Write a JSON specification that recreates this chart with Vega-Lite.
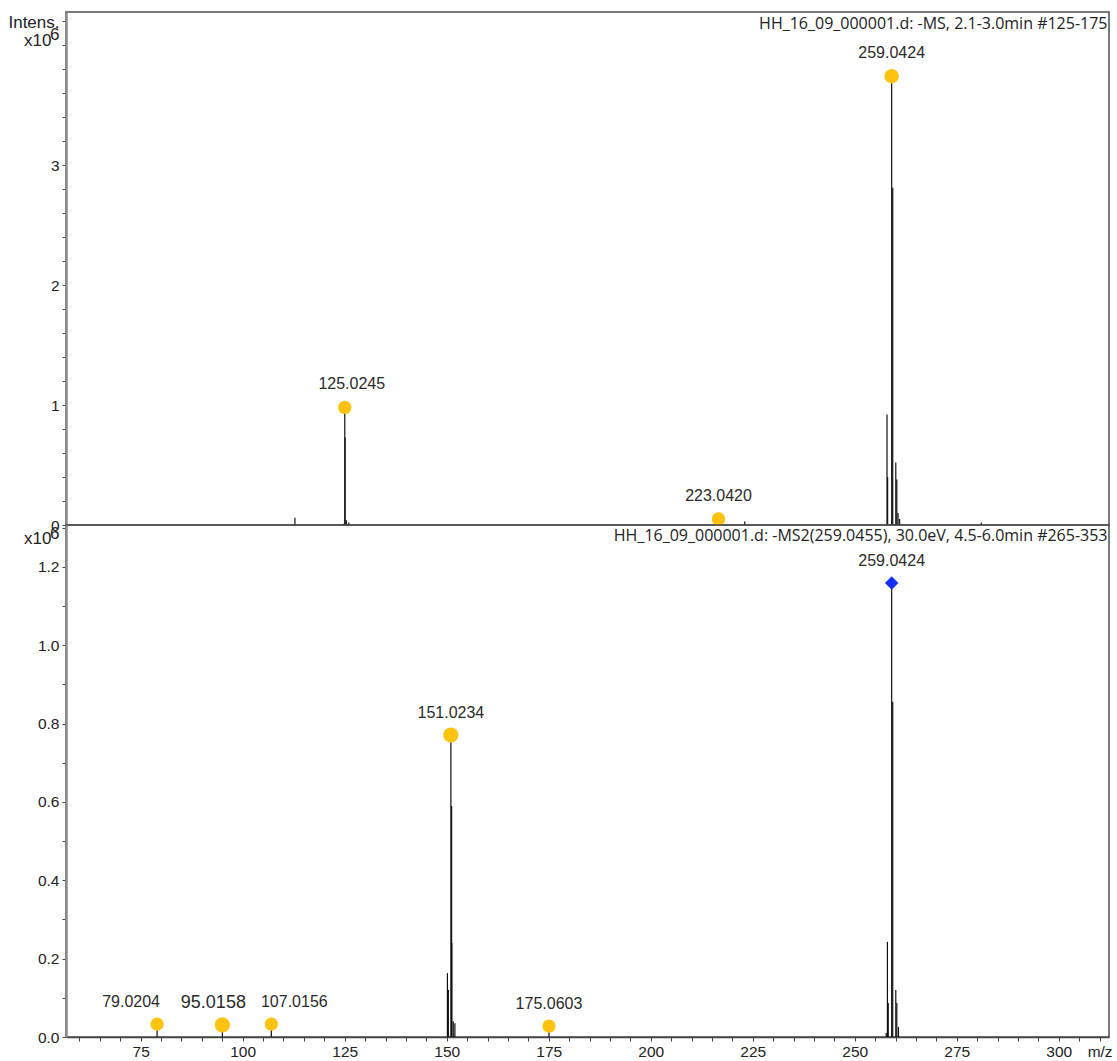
{
  "$schema": "https://vega.github.io/schema/vega-lite/v6.json",
  "padding": {"left": 7, "top": 11, "right": 0, "bottom": 0},
  "background": "white",
  "spacing": 0,
  "bounds": "flush",
  "config": {
    "view": {"stroke": "#4d4d4d", "strokeWidth": 1.5},
    "axis": {"labelFont": "Liberation Sans", "labelFontSize": 15.5, "labelColor": "#222", "titleFont": "Liberation Sans", "titleFontSize": 17, "titleFontWeight": "normal", "titleColor": "#222", "titleLimit": 3000, "tickColor": "#444", "tickSize": 4, "grid": false, "labelOverlap": false, "labelFlush": false}
  },
  "datasets": {
    "ms1": [
      {"mz": 112.8, "intensity": 0.06},
      {"mz": 124.7, "intensity": 0.01},
      {"mz": 125.02, "intensity": 0.98},
      {"mz": 125.1, "intensity": 0.73},
      {"mz": 125.4, "intensity": 0.04},
      {"mz": 126.0, "intensity": 0.02},
      {"mz": 135.0, "intensity": 0.006},
      {"mz": 216.6, "intensity": 0.01},
      {"mz": 223.04, "intensity": 0.03},
      {"mz": 257.9, "intensity": 0.92},
      {"mz": 258.05, "intensity": 0.4},
      {"mz": 259.04, "intensity": 3.74},
      {"mz": 259.3, "intensity": 2.81},
      {"mz": 260.05, "intensity": 0.52},
      {"mz": 260.3, "intensity": 0.38},
      {"mz": 260.6, "intensity": 0.1},
      {"mz": 261.0, "intensity": 0.05},
      {"mz": 281.0, "intensity": 0.02}
    ],
    "ms1peaks": [
      {"mz": 125.02, "intensity": 0.98, "label": "125.0245"},
      {"mz": 216.6, "intensity": 0.05, "label": "223.0420"},
      {"mz": 259.04, "intensity": 3.74, "label": "259.0424"}
    ],
    "ms2": [
      {"mz": 79.02, "intensity": 0.033},
      {"mz": 95.02, "intensity": 0.025},
      {"mz": 107.02, "intensity": 0.033},
      {"mz": 150.17, "intensity": 0.163},
      {"mz": 150.4, "intensity": 0.12},
      {"mz": 151.02, "intensity": 0.771},
      {"mz": 151.2, "intensity": 0.59},
      {"mz": 151.25, "intensity": 0.24},
      {"mz": 151.6, "intensity": 0.04},
      {"mz": 152.0, "intensity": 0.035},
      {"mz": 175.06, "intensity": 0.028},
      {"mz": 257.7, "intensity": 0.01},
      {"mz": 258.0, "intensity": 0.243},
      {"mz": 258.2, "intensity": 0.087},
      {"mz": 259.04, "intensity": 1.159},
      {"mz": 259.3, "intensity": 0.856},
      {"mz": 260.05, "intensity": 0.12},
      {"mz": 260.3, "intensity": 0.087},
      {"mz": 260.7, "intensity": 0.026}
    ],
    "ms2peaks": [
      {"mz": 79.02, "intensity": 0.033, "label": "79.0204", "kind": "fragment"},
      {"mz": 95.02, "intensity": 0.031, "label": "95.0158", "kind": "fragment"},
      {"mz": 107.02, "intensity": 0.033, "label": "107.0156", "kind": "fragment"},
      {"mz": 151.02, "intensity": 0.771, "label": "151.0234", "kind": "fragment"},
      {"mz": 175.06, "intensity": 0.028, "label": "175.0603", "kind": "fragment"},
      {"mz": 259.04, "intensity": 1.159, "label": "259.0424", "kind": "precursor"}
    ]
  },
  "vconcat": [
    {
      "width": 1043,
      "height": 513,
      "resolve": {"axis": {"y": "independent"}},
      "layer": [
        {
          "data": {"name": "ms1"},
          "mark": {"type": "rule", "color": "#111", "strokeWidth": 1.2},
          "encoding": {
            "x": {"field": "mz", "type": "quantitative", "scale": {"domain": [56.7, 312.3], "nice": false, "zero": false},
              "axis": {"orient": "top", "title": "HH_16_09_000001.d: -MS, 2.1-3.0min #125-175", "titleFont": "Open Sans", "titleFontSize": 16, "titleAlign": "right", "titleBaseline": "alphabetic", "titleX": 1041, "titleY": 16.5, "domain": false, "ticks": false, "labels": false}},
            "y": {"field": "intensity", "type": "quantitative", "scale": {"domain": [0, 4.275], "nice": false},
              "axis": {"title": "x10", "titleAngle": 0, "titleAlign": "right", "titleBaseline": "alphabetic", "titleX": -15, "titleY": 33,
                "values": [0, 0.2, 0.4, 0.6, 0.8, 1, 1.2, 1.4, 1.6, 1.8, 2, 2.2, 2.4, 2.6, 2.8, 3, 3.2, 3.4, 3.6, 3.8, 4, 4.2],
                "tickCount": 200,
                "labelExpr": "abs(datum.value - round(datum.value)) < 0.001 && datum.value < 3.5 ? format(datum.value, 'd') : ''",
                "labelOverlap": false,
                "domainColor": "#8c8c8c", "domainWidth": 2.5, "labelPadding": 3}},
            "y2": {"datum": 0}
          }
        },
        {
          "data": {"name": "ms1peaks"},
          "mark": {"type": "point", "shape": "circle", "filled": true, "opacity": 1, "color": "#FFC20E", "size": {"expr": "datum.label === '259.0424' ? 210 : 180"}},
          "encoding": {
            "x": {"field": "mz", "type": "quantitative"},
            "y": {"field": "intensity", "type": "quantitative",
              "axis": {"orient": "right", "title": ["Intens.", "6"], "titleAngle": 0, "titleAlign": "right", "titleBaseline": "alphabetic", "titleX": -1050, "titleY": 15, "titleLineHeight": 12, "domain": false, "ticks": false, "labels": false}}
          }
        },
        {
          "data": {"name": "ms1peaks"},
          "mark": {"type": "text", "font": "Liberation Sans", "fontSize": 16, "color": "#2a2a2a", "baseline": "middle", "dy": -23, "dx": {"expr": "datum.label === '125.0245' ? 7 : 0"}},
          "encoding": {
            "x": {"field": "mz", "type": "quantitative"},
            "y": {"field": "intensity", "type": "quantitative", "axis": null},
            "text": {"field": "label"}
          }
        }
      ]
    },
    {
      "width": 1043,
      "height": 512,
      "resolve": {"axis": {"x": "independent", "y": "independent"}},
      "layer": [
        {
          "data": {"name": "ms2"},
          "mark": {"type": "rule", "color": "#111", "strokeWidth": 1.2},
          "encoding": {
            "x": {"field": "mz", "type": "quantitative", "scale": {"domain": [56.7, 312.3], "nice": false, "zero": false},
              "axis": {"orient": "bottom", "title": null, "values": [60, 65, 70, 75, 80, 85, 90, 95, 100, 105, 110, 115, 120, 125, 130, 135, 140, 145, 150, 155, 160, 165, 170, 175, 180, 185, 190, 195, 200, 205, 210, 215, 220, 225, 230, 235, 240, 245, 250, 255, 260, 265, 270, 275, 280, 285, 290, 295, 300, 305, 310],
                "tickCount": 200,
                "labelExpr": "datum.value == 310 ? 'm/z' : (datum.value % 25 == 0 ? format(datum.value, 'd') : '')",
                "labelOverlap": false,
                "domainColor": "#444", "domainWidth": 1.5, "labelPadding": 3}},
            "y": {"field": "intensity", "type": "quantitative", "scale": {"domain": [0, 1.307], "nice": false},
              "axis": {"title": "x10", "titleAngle": 0, "titleAlign": "right", "titleBaseline": "alphabetic", "titleX": -15, "titleY": 18,
                "values": [0, 0.1, 0.2, 0.3, 0.4, 0.5, 0.6, 0.7, 0.8, 0.9, 1.0, 1.1, 1.2, 1.3],
                "tickCount": 200,
                "labelExpr": "abs(datum.value * 5 - round(datum.value * 5)) < 0.001 ? format(datum.value, '.1f') : ''",
                "labelOverlap": false,
                "domainColor": "#8c8c8c", "domainWidth": 2.5, "labelPadding": 3}},
            "y2": {"datum": 0}
          }
        },
        {
          "data": {"name": "ms2peaks"},
          "transform": [{"filter": "datum.kind === 'fragment'"}],
          "mark": {"type": "point", "shape": "circle", "filled": true, "opacity": 1, "color": "#FFC20E", "size": {"expr": "datum.label === '95.0158' || datum.label === '151.0234' ? 230 : 175"}},
          "encoding": {
            "x": {"field": "mz", "type": "quantitative",
              "axis": {"orient": "top", "title": "HH_16_09_000001.d: -MS2(259.0455), 30.0eV, 4.5-6.0min #265-353", "titleFont": "Open Sans", "titleFontSize": 16, "titleAlign": "right", "titleBaseline": "alphabetic", "titleX": 1041, "titleY": 15, "domain": false, "ticks": false, "labels": false}},
            "y": {"field": "intensity", "type": "quantitative",
              "axis": {"orient": "right", "title": "6", "titleAngle": 0, "titleAlign": "right", "titleBaseline": "alphabetic", "titleX": -1050, "titleY": 13, "domain": false, "ticks": false, "labels": false}}
          }
        },
        {
          "data": {"name": "ms2peaks"},
          "transform": [{"filter": "datum.kind === 'precursor'"}],
          "mark": {"type": "point", "shape": "diamond", "filled": true, "opacity": 1, "color": "#1530F5", "size": 180},
          "encoding": {
            "x": {"field": "mz", "type": "quantitative", "axis": null},
            "y": {"field": "intensity", "type": "quantitative", "axis": null}
          }
        },
        {
          "data": {"name": "ms2peaks"},
          "mark": {"type": "text", "font": "Liberation Sans", "color": "#2a2a2a", "baseline": "middle", "dy": -22,
            "fontSize": {"expr": "datum.label === '95.0158' ? 18 : 16"},
            "dx": {"expr": "datum.label === '79.0204' ? -26 : datum.label === '95.0158' ? -9 : datum.label === '107.0156' ? 23 : 0"}},
          "encoding": {
            "x": {"field": "mz", "type": "quantitative", "axis": null},
            "y": {"field": "intensity", "type": "quantitative", "axis": null},
            "text": {"field": "label"}
          }
        }
      ]
    }
  ]
}
